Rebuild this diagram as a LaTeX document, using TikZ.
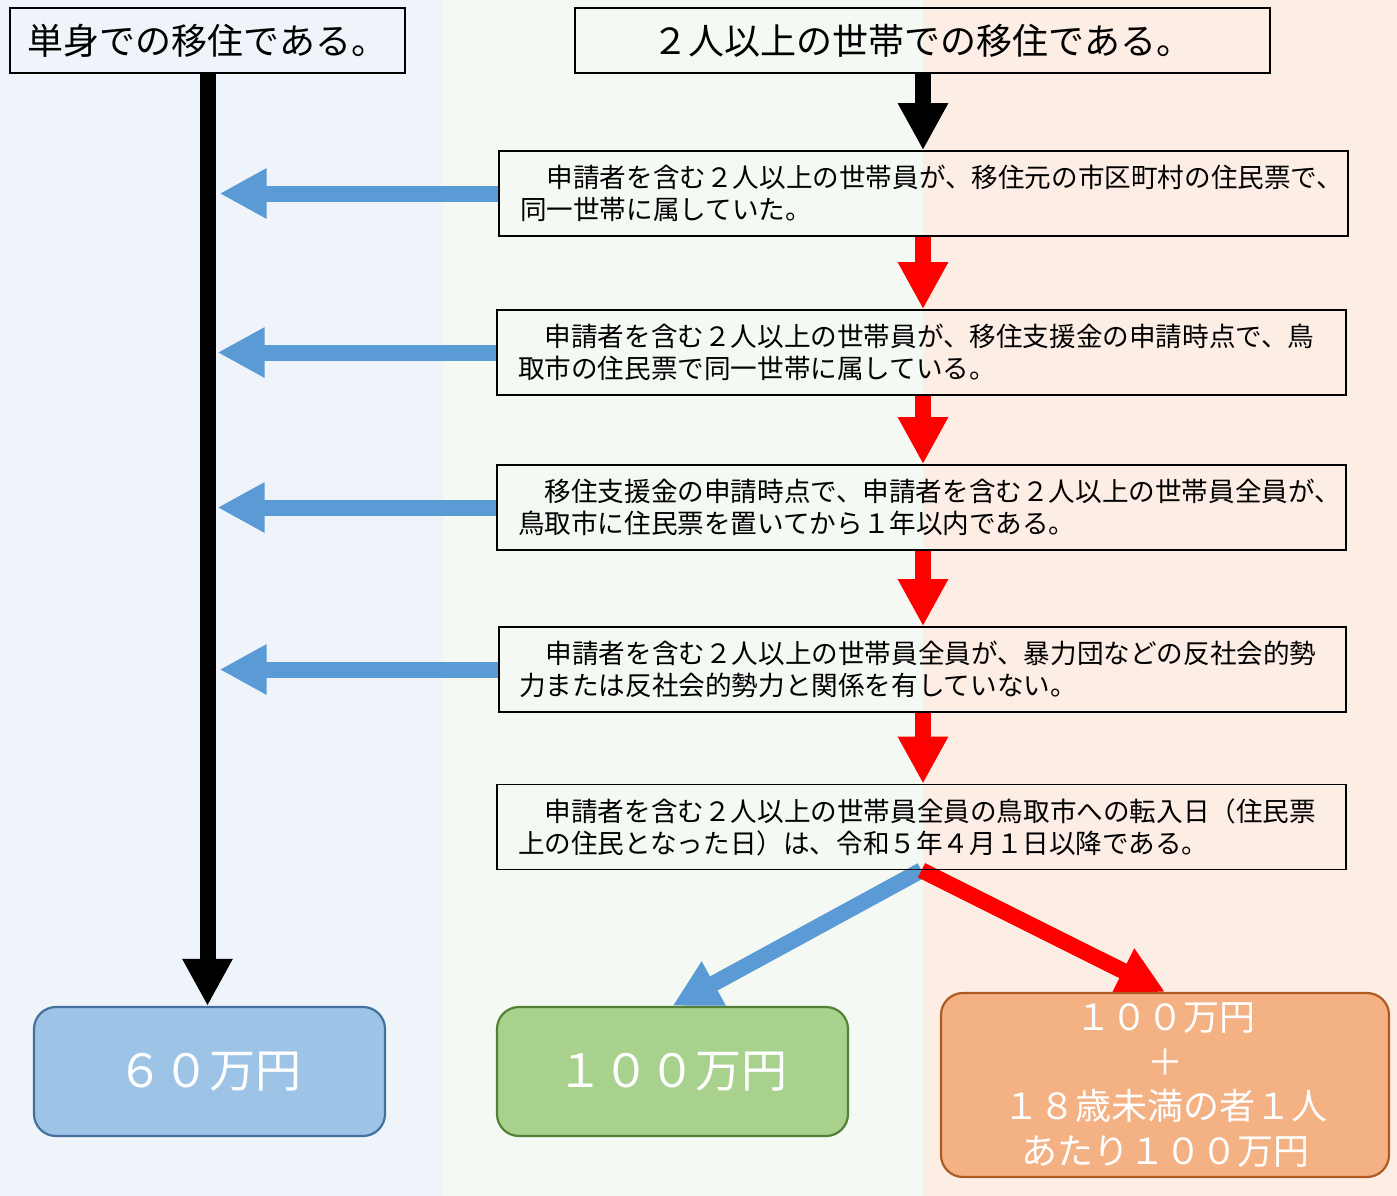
\documentclass[tikz,border=0pt]{standalone}
\usepackage{fontspec}
\setmainfont{Noto Sans CJK JP}
\usetikzlibrary{arrows.meta}
\definecolor{bgL}{HTML}{EFF4FB}
\definecolor{bgM}{HTML}{F4F9F3}
\definecolor{bgR}{HTML}{FDEEE5}
\definecolor{arrBlue}{HTML}{5B9BD5}
\definecolor{arrRed}{HTML}{FF0000}
\definecolor{resBlueF}{HTML}{9DC3E6}
\definecolor{resBlueD}{HTML}{41719C}
\definecolor{resGreenF}{HTML}{A9D18E}
\definecolor{resGreenD}{HTML}{538135}
\definecolor{resOrangeF}{HTML}{F4B183}
\definecolor{resOrangeD}{HTML}{AE5A21}
\pgfdeclarelayer{bg}
\pgfdeclarelayer{arr}
\pgfsetlayers{bg,arr,main}
\tikzset{
  titlebox/.style={draw=black, line width=1.6pt, inner sep=0pt, minimum height=65pt,
    font=\fontsize{36}{42}\selectfont},
  condbox/.style={draw=black, line width=1.6pt, inner sep=0pt, minimum width=849pt,
    minimum height=85pt, text width=846pt, align=left,
    execute at begin node={\leftskip=19.5pt\relax},
    font=\fontsize{26.6}{32}\selectfont},
  resbox/.style={rounded corners=22pt, line width=2.2pt, inner sep=0pt, text=white, align=center},
  fatarrow/.style={line width=16pt, -{Triangle[width=47pt,length=47pt]}},
}
\begin{document}
\begin{tikzpicture}[x=1pt,y=-1pt]
\useasboundingbox (0,0) rectangle (1397,1196);
\begin{pgfonlayer}{bg}
  \fill[bgL] (0,0) rectangle (443,1196);
  \fill[bgM] (443,0) rectangle (923,1196);
  \fill[bgR] (923,0) rectangle (1397,1196);
\end{pgfonlayer}

\coordinate (spine) at (923,0);

\node[titlebox, minimum width=395pt] (ltitle) at (207.5,40.5) {単身での移住である。};
\node[titlebox, minimum width=695pt] (rtitle) at (922.5,40.5) {２人以上の世帯での移住である。};

\node[condbox] (b1) at (923.5,193.5) {　申請者を含む２人以上の世帯員が、移住元の市区町村の住民票で、\\同一世帯に属していた。};
\node[condbox] (b2) at (921.5,352.5) {　申請者を含む２人以上の世帯員が、移住支援金の申請時点で、鳥\\取市の住民票で同一世帯に属している。};
\node[condbox] (b3) at (921.5,507.5) {　移住支援金の申請時点で、申請者を含む２人以上の世帯員全員が、\\鳥取市に住民票を置いてから１年以内である。};
\node[condbox, minimum width=847pt] (b4) at (922.5,669.5) {　申請者を含む２人以上の世帯員全員が、暴力団などの反社会的勢\\力または反社会的勢力と関係を有していない。};
\node[condbox] (b5) at (921.5,827) {　申請者を含む２人以上の世帯員全員の鳥取市への転入日（住民票\\上の住民となった日）は、令和５年４月１日以降である。};

\node[resbox, draw=resBlueD, fill=resBlueF, minimum width=351pt, minimum height=129pt,
  font=\fontsize{46}{52}\selectfont] (r60) at (209.5,1071.5) {６０万円};
\node[resbox, draw=resGreenD, fill=resGreenF, minimum width=351pt, minimum height=129pt,
  font=\fontsize{46}{52}\selectfont] (g100) at (672.5,1071.5) {１００万円};
\node[resbox, draw=resOrangeD, fill=resOrangeF, minimum width=448pt, minimum height=184pt,
  font=\fontsize{36}{44.6}\selectfont] (o100) at (1165,1085) {１００万円\\＋\\１８歳未満の者１人\\あたり１００万円};

\begin{pgfonlayer}{arr}
  \draw[fatarrow, black] (ltitle.south) -- (ltitle.south |- r60.north);
  \draw[fatarrow, black] (rtitle.south -| spine) -- (b1.north -| spine);
  \draw[fatarrow, arrRed] (b1.south -| spine) -- (b2.north -| spine);
  \draw[fatarrow, arrRed] (b2.south -| spine) -- (b3.north -| spine);
  \draw[fatarrow, arrRed] (b3.south -| spine) -- (b4.north -| spine);
  \draw[fatarrow, arrRed] (b4.south -| spine) -- (b5.north -| spine);
  \draw[fatarrow, arrBlue] (b1.west) -- ([xshift=12pt]ltitle.south |- b1.west);
  \draw[fatarrow, arrBlue] (b2.west) -- ([xshift=10pt]ltitle.south |- b2.west);
  \draw[fatarrow, arrBlue] (b3.west) -- ([xshift=10pt]ltitle.south |- b3.west);
  \draw[fatarrow, arrBlue] (b4.west) -- ([xshift=12pt]ltitle.south |- b4.west);
  \draw[fatarrow, arrBlue] (b5.south) -- (g100.north);
  \draw[fatarrow, arrRed] (b5.south) -- (o100.north);
\end{pgfonlayer}
\end{tikzpicture}
\end{document}
